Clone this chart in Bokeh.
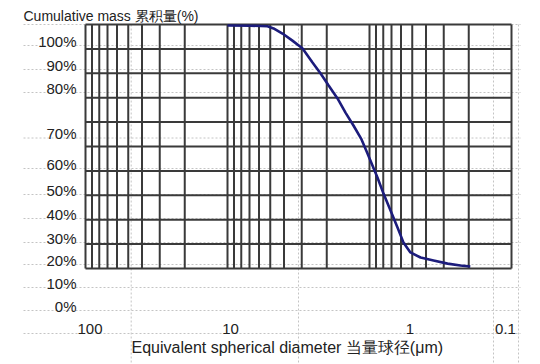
import math
from bokeh.plotting import figure
from bokeh.models import Range1d, LinearScale
from bokeh.core.properties import value
from bokeh.embed import file_html
from bokeh.resources import INLINE

# ---------------- data ----------------
diameter_um = [10.0, 6.89, 5.23, 4.74, 4.10, 3.49, 2.96, 2.52, 2.21, 1.94, 1.68,
               1.476, 1.297, 1.138, 1.033, 0.953, 0.879, 0.797, 0.711, 0.635,
               0.577, 0.515, 0.437, 0.354, 0.282, 0.229, 0.195]
cumulative_pct = [99.6, 99.5, 99.3, 98.4, 96.3, 93.4, 90.2, 84.4, 79.9, 75.0, 69.7,
                  63.9, 58.6, 52.9, 47.1, 42.2, 37.3, 30.7, 23.8, 16.8,
                  10.7, 6.6, 4.5, 3.3, 2.0, 1.2, 0.8]
grid_pct = [0, 10, 20, 30, 40, 50, 60, 70, 80, 90, 100]
grid_diam = [100, 90, 80, 70, 60, 50, 40, 30, 20,
             10, 9, 8, 7, 6, 5, 4, 3, 2,
             1, 0.9, 0.8, 0.7, 0.6, 0.5, 0.4, 0.3, 0.2, 0.1]
y_tick_labels = ["100%", "90%", "80%", "70%", "60%", "50%", "40%", "30%", "20%", "10%", "0%"]
x_tick_labels = ["100", "10", "1", "0.1"]
title_text = "Cumulative mass 累积量(%)"
xlabel_text = "Equivalent spherical diameter 当量球径(μm)"

# ---------------- layout ----------------
W, H = 540, 364
box_l, box_r, box_t, box_b = 85, 511, 24, 268
d_hi, d_lo = max(grid_diam), min(grid_diam)
ppd = (box_r - box_l) / math.log10(d_hi / d_lo)
x_start = 10 ** (math.log10(d_hi) + box_l / ppd)
x_end = 10 ** (math.log10(d_lo) - (W - box_r) / ppd)
ppu = (box_b - box_t) / 100.0
y_start = -(H - box_b) / ppu
y_end = 100 + box_t / ppu

# spreadsheet-like cell lines (pixel units of the figure)
row_lines = [24, 45, 69, 92, 137.5, 168, 194, 218, 242, 264, 287, 310, 333]
col_lines = [130.7, 298, 493, 518]
x_label_pos = [89.5, 230, 409.5, 505]

FONT = value("Liberation Sans")
TXT = "#222222"

p = figure(width=W, height=H, x_axis_type="log",
           x_range=Range1d(x_start, x_end), y_range=Range1d(y_start, y_end),
           x_axis_location=None, y_axis_location=None,
           output_backend="svg", toolbar_location=None, min_border=0)
p.grid.visible = False
p.outline_line_color = None
p.background_fill_color = "white"
p.border_fill_color = "white"

p.extra_x_ranges = {"px_x": Range1d(0, W)}
p.extra_y_ranges = {"px_y": Range1d(H, 0)}
p.extra_x_scales = {"px_x": LinearScale()}
p.extra_y_scales = {"px_y": LinearScale()}

# dashed table grid
p.segment(x0=[23] * len(row_lines), x1=[520] * len(row_lines), y0=row_lines, y1=row_lines,
          line_color="#c4c4c4", line_width=1, line_dash="2 2",
          x_range_name="px_x", y_range_name="px_y")
p.segment(x0=col_lines, x1=col_lines, y0=[24] * len(col_lines), y1=[H] * len(col_lines),
          line_color="#c4c4c4", line_width=1, line_dash="2 2",
          x_range_name="px_x", y_range_name="px_y")

# black chart grid
p.segment(x0=grid_diam, x1=grid_diam, y0=[0] * len(grid_diam), y1=[100] * len(grid_diam),
          line_color="#3a3a3a", line_width=2)
p.segment(x0=[d_hi] * len(grid_pct), x1=[d_lo] * len(grid_pct), y0=grid_pct, y1=grid_pct,
          line_color="#3a3a3a", line_width=2)

# curve
p.line(diameter_um, cumulative_pct, line_color="#1c1c7c", line_width=2.6)

# y labels (bottom of each row)
p.text(x=[76] * len(y_tick_labels), y=[r - 4.5 for r in row_lines[1:len(y_tick_labels) + 1]],
       text=y_tick_labels, text_align="right", text_baseline="alphabetic",
       text_font=FONT, text_font_size="15px", text_color=TXT,
       x_range_name="px_x", y_range_name="px_y")
# x labels
p.text(x=x_label_pos, y=[row_lines[-1] - 5] * len(x_tick_labels), text=x_tick_labels,
       text_align="center", text_baseline="alphabetic",
       text_font=FONT, text_font_size="15px", text_color=TXT,
       x_range_name="px_x", y_range_name="px_y")
# titles
p.text(x=[23], y=[15], text=[title_text], text_align="left", text_baseline="middle",
       text_font=FONT, text_font_size="14px", text_color=TXT,
       x_range_name="px_x", y_range_name="px_y")
p.text(x=[131], y=[346.5], text=[xlabel_text], text_align="left", text_baseline="middle",
       text_font=FONT, text_font_size="16px", text_color=TXT,
       x_range_name="px_x", y_range_name="px_y")

open("out.html", "w").write(file_html(p, INLINE))
